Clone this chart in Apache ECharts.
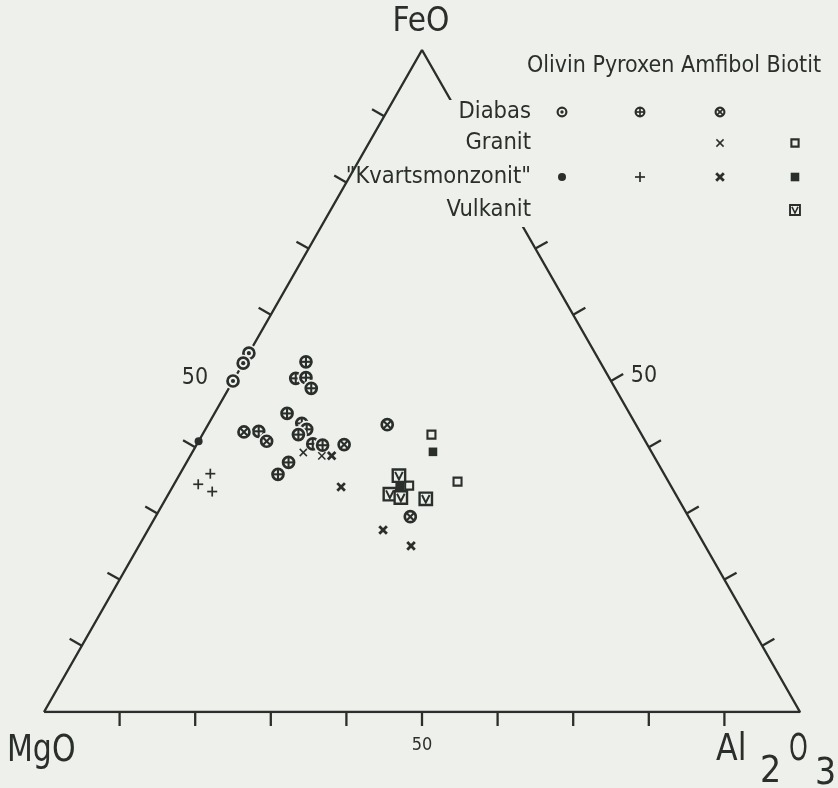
<!DOCTYPE html>
<html>
<head>
<meta charset="utf-8">
<script src="https://cdn.jsdelivr.net/npm/echarts@6/dist/echarts.min.js"></script>
<style>
  html, body { margin: 0; padding: 0; background: #eef1eb; }
  #chart { width: 838px; height: 788px; }
</style>
</head>
<body>
<div id="chart"></div>
<script>
// ---------- data (ternary percentages: [FeO, Al2O3], MgO = rest) ----------
const vertexLabels = ['MgO', 'FeO', 'Al2O3'];
const tickValues = [10, 20, 30, 40, 50, 60, 70, 80, 90];
const labeledTicks = [50];
const rockTypes = ['Diabas', 'Granit', '"Kvartsmonzonit"', 'Vulkanit'];
const minerals = ['Olivin', 'Pyroxen', 'Amfibol', 'Biotit'];

const diabasOlivin   = [[54.2, 0], [52.7, 0], [50.0, 0]];
const diabasPyroxen  = [[52.9, 8.2], [50.4, 8.1], [50.5, 9.4], [48.9, 10.9], [45.1, 9.6], [43.6, 12.3],
                        [42.7, 13.4], [41.9, 12.7], [40.5, 15.3], [40.3, 16.7], [37.7, 13.5], [35.9, 13.0], [42.4, 7.2]];
const diabasAmfibol  = [[42.3, 5.3], [40.9, 9.0], [40.4, 19.5], [43.4, 23.7], [29.5, 33.7]];
const granitAmfibol  = [[39.2, 14.7], [38.7, 17.4]];
const granitBiotit   = [[41.9, 30.3], [34.8, 37.3], [34.2, 31.2]];
const kvartsOlivin   = [[40.9, 0]];
const kvartsPyroxen  = [[36.0, 4.0], [34.4, 3.2], [33.3, 5.6]];
const kvartsAmfibol  = [[38.7, 18.7], [34.0, 22.3], [27.5, 31.1], [25.1, 36.0]];
const kvartsBiotit   = [[39.3, 31.8], [34.1, 30.0]];
const vulkanitBiotit = [[35.7, 29.1], [32.9, 29.3], [32.4, 31.0], [32.2, 34.4]];

// ---------- styling ----------
const INK = '#2b2f2c';
const BG = '#eef1eb';
const FONT = '"DejaVu Sans Condensed", "DejaVu Sans", sans-serif';

// marker kind for [rock][mineral]
const markerKinds = [
  ['ringDot', 'ringPlus', 'ringX', null],
  [null, null, 'xThin', 'sqOpen'],
  ['dot', 'plus', 'xBold', 'sqFill'],
  [null, null, null, 'sqV']
];
const seriesDefs = [
  { row: 0, col: 0, data: diabasOlivin },
  { row: 0, col: 1, data: diabasPyroxen },
  { row: 0, col: 2, data: diabasAmfibol },
  { row: 1, col: 2, data: granitAmfibol },
  { row: 1, col: 3, data: granitBiotit },
  { row: 2, col: 0, data: kvartsOlivin },
  { row: 2, col: 1, data: kvartsPyroxen },
  { row: 2, col: 2, data: kvartsAmfibol },
  { row: 2, col: 3, data: kvartsBiotit },
  { row: 3, col: 3, data: vulkanitBiotit }
];

// ternary -> cartesian in the 0..100 plot space
function toXY(p) { const fe = p[0], al = p[1]; return [al + fe / 2, fe]; }

function marker(kind, x, y, s) {
  const el = [];
  const ln = (x1, y1, x2, y2, w) => ({ type: 'line', shape: { x1, y1, x2, y2 }, style: { stroke: INK, lineWidth: w, lineCap: 'butt' } });
  if (kind === 'ringDot' || kind === 'ringPlus' || kind === 'ringX') {
    const r = 5.5 * s;
    el.push({ type: 'circle', shape: { cx: x, cy: y, r: r + 3 * s }, style: { fill: BG } });
    el.push({ type: 'circle', shape: { cx: x, cy: y, r: r }, style: { fill: BG, stroke: INK, lineWidth: 2.7 * s } });
    if (kind === 'ringDot') el.push({ type: 'circle', shape: { cx: x, cy: y, r: 2.1 * s }, style: { fill: INK } });
    if (kind === 'ringPlus') { el.push(ln(x - r, y, x + r, y, 2.1 * s)); el.push(ln(x, y - r, x, y + r, 2.1 * s)); }
    if (kind === 'ringX') { const d = r * 0.72; el.push(ln(x - d, y - d, x + d, y + d, 2.1 * s)); el.push(ln(x - d, y + d, x + d, y - d, 2.1 * s)); }
  } else if (kind === 'dot') {
    el.push({ type: 'circle', shape: { cx: x, cy: y, r: 4 * s }, style: { fill: INK } });
  } else if (kind === 'plus') {
    const a = 5 * s; el.push(ln(x - a, y, x + a, y, 1.7)); el.push(ln(x, y - a, x, y + a, 1.7));
  } else if (kind === 'xThin') {
    const a = 3.6 * s; el.push(ln(x - a, y - a, x + a, y + a, 1.5)); el.push(ln(x - a, y + a, x + a, y - a, 1.5));
  } else if (kind === 'xBold') {
    const a = 3.8 * s; el.push(ln(x - a, y - a, x + a, y + a, 2.8)); el.push(ln(x - a, y + a, x + a, y - a, 2.8));
  } else if (kind === 'sqOpen') {
    const h = 4 * s; el.push({ type: 'rect', shape: { x: x - h, y: y - h, width: 2 * h, height: 2 * h }, style: { fill: BG, stroke: INK, lineWidth: 2.1 } });
  } else if (kind === 'sqFill') {
    const h = 4.3 * s; el.push({ type: 'rect', shape: { x: x - h, y: y - h, width: 2 * h, height: 2 * h }, style: { fill: INK } });
  } else if (kind === 'sqV') {
    const h = 6.2 * s, i = 3.8 * s;
    el.push({ type: 'rect', shape: { x: x - h, y: y - h, width: 2 * h, height: 2 * h }, style: { fill: BG, stroke: INK, lineWidth: 2.4 * s } });
    el.push({ type: 'polyline', shape: { points: [[x - i, y - i], [x, y + i], [x + i, y - i]] }, style: { stroke: INK, lineWidth: 2 * s, fill: null } });
  }
  return el;
}

function unit(a, b) { const dx = b[0] - a[0], dy = b[1] - a[1], l = Math.hypot(dx, dy); return [dx / l, dy / l]; }

function tickRender(params, api) {
  const v = api.value(0), side = api.value(1);
  const A = api.coord([0, 0]), C = api.coord([50, 100]), B = api.coord([100, 0]);
  let p, n, off, fs;
  if (side === 0) { p = api.coord([v, 0]); n = [0, 1]; off = [0, 33]; fs = 18; }
  else if (side === 1) { p = api.coord([v / 2, v]); const d = unit(A, C); n = [d[1], -d[0]]; off = [-38, -3]; fs = 23; }
  else { p = api.coord([100 - v / 2, v]); const d = unit(C, B); n = [d[1], -d[0]]; off = [33, -5]; fs = 23; }
  const L = 14;
  const children = [];
  const isLabeled = labeledTicks.indexOf(v) >= 0;
  if (!(side === 1 && isLabeled)) {
    children.push({ type: 'line', shape: { x1: p[0], y1: p[1], x2: p[0] + n[0] * L, y2: p[1] + n[1] * L },
      style: { stroke: INK, lineWidth: 2.3 } });
  }
  if (isLabeled) {
    children.push({ type: 'text', style: { text: String(v), x: p[0] + off[0], y: p[1] + off[1],
      align: 'center', verticalAlign: 'middle', fill: INK, fontSize: fs, fontFamily: FONT } });
  }
  return { type: 'group', children };
}

const series = [
  {
    type: 'line', silent: true, symbol: 'none', z: 2,
    data: [[0, 0], [100, 0], [0, 100], [0, 0]].map(toXY),
    lineStyle: { color: INK, width: 2.4 }
  },
  {
    type: 'custom', silent: true, z: 2,
    data: tickValues.flatMap(v => [[v, 0], [v, 1], [v, 2]]),
    renderItem: tickRender
  }
];
seriesDefs.forEach(def => {
  const kind = markerKinds[def.row][def.col];
  series.push({
    type: 'custom', silent: true, z: 5,
    name: rockTypes[def.row] + ' ' + minerals[def.col],
    data: def.data.map(toXY),
    renderItem: (params, api) => {
      const p = api.coord([api.value(0), api.value(1)]);
      return { type: 'group', children: marker(kind, p[0], p[1], 1) };
    }
  });
});

// ---------- legend table and vertex labels ----------
const rowY = [112, 143, 177, 210];
const colX = [562, 640, 720, 795];
const graphic = [];
graphic.push({ type: 'rect', z: 50, silent: true, shape: { x: 438, y: 100, width: 98, height: 127 }, style: { fill: BG } });
graphic.push({ type: 'text', z: 60, x: 674, y: 66, style: { text: minerals.join(' '), fill: INK, fontSize: 23, fontFamily: FONT, align: 'center', verticalAlign: 'middle' } });
rockTypes.forEach((r, i) => {
  graphic.push({ type: 'text', z: 60, x: 531, y: rowY[i], style: { text: r, fill: INK, fontSize: 23.5, fontFamily: FONT, align: 'right', verticalAlign: 'middle' } });
  markerKinds[i].forEach((k, j) => {
    if (!k) return;
    const s = (k.indexOf('ring') === 0) ? 0.8 : (k === 'sqV' ? 0.8 : (k === 'sqOpen' ? 0.9 : 1));
    graphic.push({ type: 'group', z: 60, children: marker(k, colX[j], rowY[i], s) });
  });
});
graphic.push({ type: 'text', z: 60, x: 421, y: 22, style: { text: vertexLabels[1], fill: INK, fontSize: 33, fontFamily: FONT, align: 'center', verticalAlign: 'middle' } });
graphic.push({ type: 'text', z: 60, x: 7, y: 751, scaleX: 0.9, style: { text: vertexLabels[0], fill: INK, fontSize: 37, fontFamily: FONT, align: 'left', verticalAlign: 'middle' } });
// Al2O3 with lowered digits
const alParts = vertexLabels[2].match(/[A-Za-z]+|\d/g); // Al, 2, O, 3
const alPos = [[716, 750], [760, 772], [789, 750], [815, 774]];
const alScale = [0.95, 1, 0.72, 1];
alParts.forEach((t, i) => {
  graphic.push({ type: 'text', z: 60, x: alPos[i][0], y: alPos[i][1], scaleX: alScale[i], style: { text: t, fill: INK, fontSize: 37, fontFamily: FONT, align: 'left', verticalAlign: 'middle' } });
});

const chart = echarts.init(document.getElementById('chart'), null, { renderer: 'canvas' });
chart.setOption({
  backgroundColor: BG,
  animation: false,
  grid: { left: 44, top: 50, width: 756, height: 662 },
  xAxis: { type: 'value', min: 0, max: 100, show: false },
  yAxis: { type: 'value', min: 0, max: 100, show: false },
  series: series,
  graphic: graphic
});
</script>
</body>
</html>
